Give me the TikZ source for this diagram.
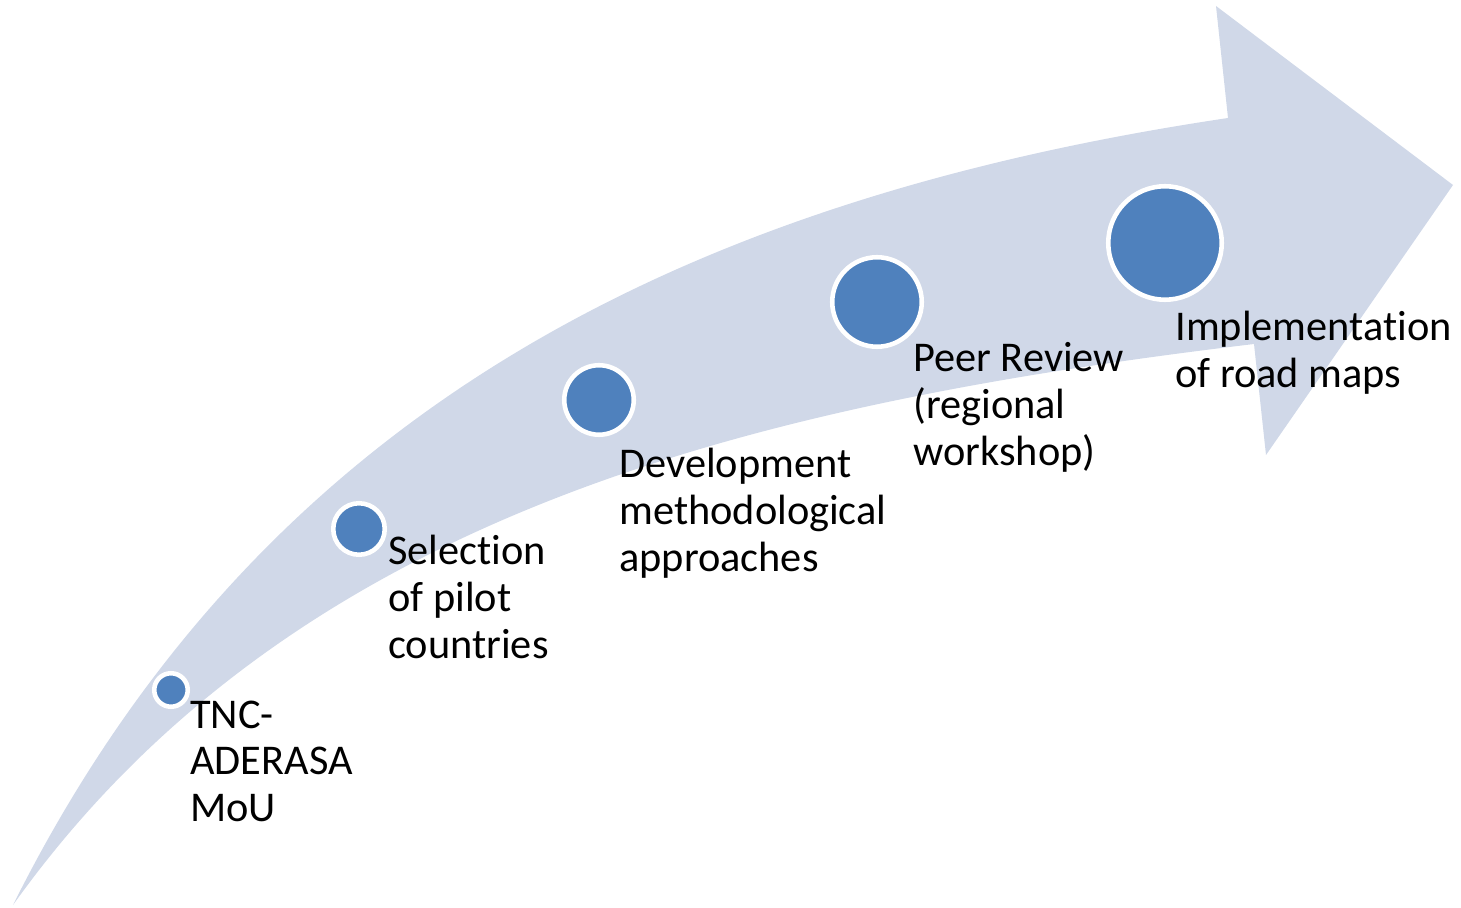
\documentclass[tikz,border=0pt]{standalone}
\usepackage{fontspec}
\setmainfont{Carlito}[Ligatures=NoCommon]

\definecolor{bandfill}{HTML}{D0D8E8}
\definecolor{dotblue}{HTML}{4F81BD}

\tikzset{
  milestone/.style={circle, fill=dotblue, draw=white, line width=2.6pt,
    inner sep=0pt, minimum size=#1*0.02cm},
  steplabel/.style={anchor=base west, inner sep=0pt,
    font=\fontsize{24.1}{26.5}\selectfont}
}

\begin{document}
\begin{tikzpicture}[x=0.02cm,y=-0.02cm]
\useasboundingbox (0,0) rectangle (1461,908);

% the curved arrow
\coordinate (tail) at (13,905);
\fill[bandfill] (tail) .. controls (258,415) and (678,200) .. (1228,118)
    -- (1216,6) -- (1453,185) -- (1266,455) -- (1254,344)
    .. controls (754,404) and (293,513) .. (tail) -- cycle;

\foreach \i/\x/\y/\d in {1/171/690/33.5, 2/359/529/51.5, 3/599/400/69.5,
                         4/877/302/89.5, 5/1165/243/113.5} {%
    \node (m\i) at (\x,\y) [milestone=\d] {};
}

\node (t1) at (190,728) [steplabel] {\begin{tabular}[t]{@{}l@{}}TNC-\\ADERASA\\MoU\end{tabular}};
\node (t2) at (388,565) [steplabel] {\begin{tabular}[t]{@{}l@{}}Selection\\of pilot\\countries\end{tabular}};
\node (t3) at (619,478) [steplabel] {\begin{tabular}[t]{@{}l@{}}Development\\methodological\\approaches\end{tabular}};
\node (t4) at (913,372) [steplabel] {\begin{tabular}[t]{@{}l@{}}Peer Review\\(regional\\workshop)\end{tabular}};
\node (t5) at (1175,341) [steplabel] {\begin{tabular}[t]{@{}l@{}}Implementation\\of road maps\end{tabular}};
\end{tikzpicture}
\end{document}
